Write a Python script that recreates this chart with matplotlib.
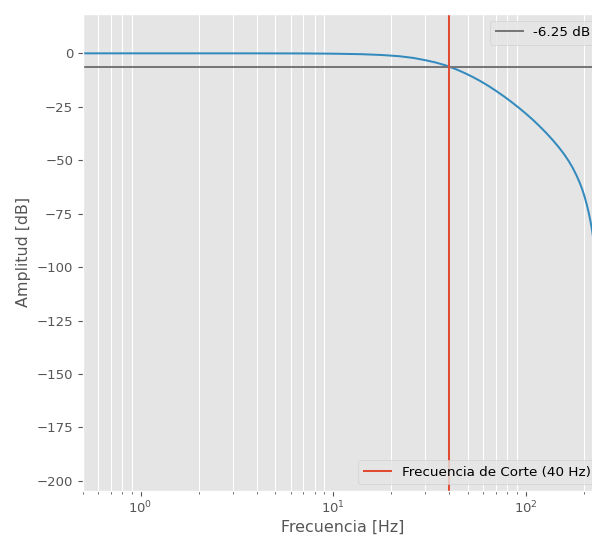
import matplotlib
matplotlib.use("Agg")
import matplotlib.pyplot as plt

plt.style.use("ggplot")
plt.rcParams["font.size"] = 9.5
plt.rcParams["legend.fontsize"] = 9.7
plt.rcParams["xtick.major.size"] = 3.3
plt.rcParams["ytick.major.size"] = 3.3
plt.rcParams["xtick.minor.size"] = 1.9

# Frequency response
freq_hz = [0.5, 1, 2, 4, 7, 10, 14, 18, 22, 26, 30, 34, 38, 40, 44, 48, 53,
           58, 64, 70, 77, 84, 92, 100, 109, 118, 128, 138, 148, 158, 167,
           175, 183, 190, 196, 202, 207, 212, 216, 220, 224, 228]
amp_db = [0.0, 0.0, 0.0, -0.01, -0.05, -0.17, -0.4, -0.8, -1.35, -2.15, -3.2,
          -4.3, -5.55, -6.25, -7.7, -9.2, -11.1, -13.0, -15.3, -17.6, -20.2,
          -22.74, -25.54, -28.26, -31.25, -34.22, -37.47, -40.71, -43.96,
          -47.31, -50.56, -53.71, -57.2, -60.54, -63.78, -67.51, -71.01,
          -74.96, -78.52, -82.6, -87.2, -92.4]

cutoff_hz = 40
cutoff_db = -6.25
hline_label = "-6.25 dB"
vline_label = "Frecuencia de Corte (40 Hz)"

fig = plt.figure(figsize=(5.92, 5.36), dpi=100)
ax = fig.add_axes([82.6 / 592, 45.3 / 536, 520.1 / 592, 476.7 / 536])

ax.semilogx(freq_hz, amp_db, color="#348ABD", lw=1.45)
hl = ax.axhline(cutoff_db, color="#777777", lw=1.45)
vl = ax.axvline(cutoff_hz, color="#E24A33", lw=1.45)

ax.set_xlim(0.5, 250)
ax.set_ylim(-204.6, 18.4)
ax.set_yticks([0, -25, -50, -75, -100, -125, -150, -175, -200])

ax.grid(False)
ax.grid(True, which="minor", axis="x", color="white")

ax.set_xlabel("Frecuencia [Hz]", labelpad=2.5)
ax.set_ylabel("Amplitud [dB]")

leg1 = ax.legend([hl], [hline_label], loc="upper right")
ax.add_artist(leg1)
ax.legend([vl], [vline_label], loc="lower right")

fig.savefig("out.png", dpi=100)
